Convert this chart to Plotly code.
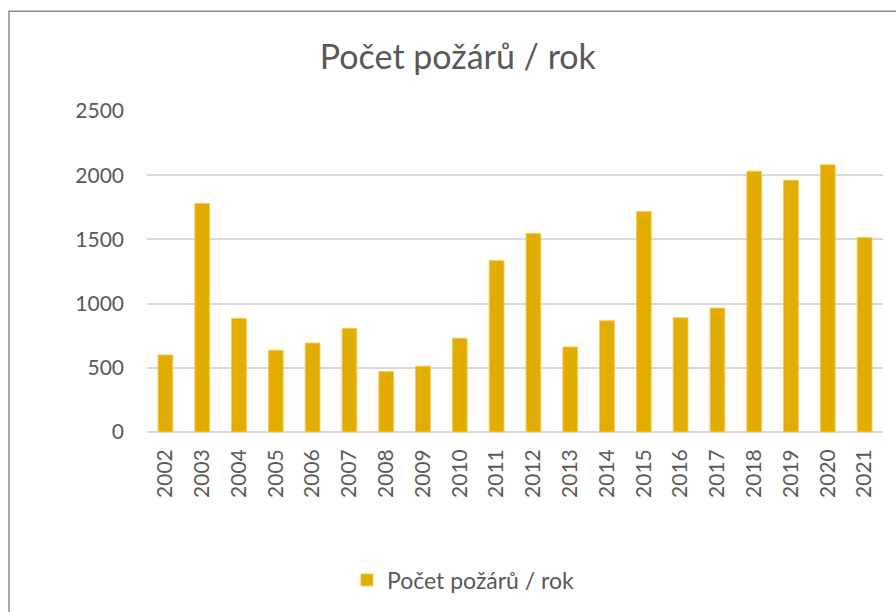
import plotly.graph_objects as go

years = [str(y) for y in range(2002, 2022)]
fires = [600, 1780, 885, 637, 693, 807, 471, 513, 730, 1335,
         1547, 662, 866, 1716, 890, 965, 2031, 1961, 2081, 1514]
y_ticks = [0, 500, 1000, 1500, 2000, 2500]

gold = '#E3AC00'
grey_text = '#595959'

fig = go.Figure()
fig.add_trace(go.Bar(x=years, y=fires,
                     name='Počet požárů / rok',
                     marker_color=gold,
                     marker_line_color='#F0CC55',
                     marker_line_width=1,
                     ))

fig.update_layout(
    width=896,
    height=612,
    margin=dict(l=147, r=13, t=111, b=179),
    paper_bgcolor='white',
    plot_bgcolor='white',
    font=dict(family='Lato', color=grey_text, size=21),
    bargap=0.6,
    title=dict(text='Počet požárů / rok', x=0.511, xref='container',
               y=1 - 57 / 612, yref='container',
               xanchor='center', yanchor='middle',
               font=dict(size=34, color=grey_text)),
    showlegend=True,
    legend=dict(orientation='h', x=0.43, y=-0.4565,
                xanchor='center', yanchor='middle',
                itemwidth=30,
                font=dict(size=23, color=grey_text)),
    xaxis=dict(tickangle=-90, showgrid=False, ticks='',
               ticklabelstandoff=12,
               tickfont=dict(size=21, color=grey_text)),
    yaxis=dict(range=[0, 2500], tickmode='array', tickvals=y_ticks,
               showgrid=True, gridcolor='#D9D9D9', gridwidth=1.5,
               zeroline=True, zerolinecolor='#D9D9D9', zerolinewidth=1.5,
               ticks='', ticklabelstandoff=22,
               tickfont=dict(size=21, color=grey_text)),
)

# chart border (Excel frame), partly outside the window
fig.add_shape(type='rect', xref='paper', yref='paper',
              x0=(9 - 147) / 736, x1=2, y0=-2, y1=(433 - 11) / 322,
              line=dict(color='#8C8C8C', width=1.5), layer='below')

fig.write_html("out.html", config={'displayModeBar': False},
               post_script="document.body.style.margin='0';")
